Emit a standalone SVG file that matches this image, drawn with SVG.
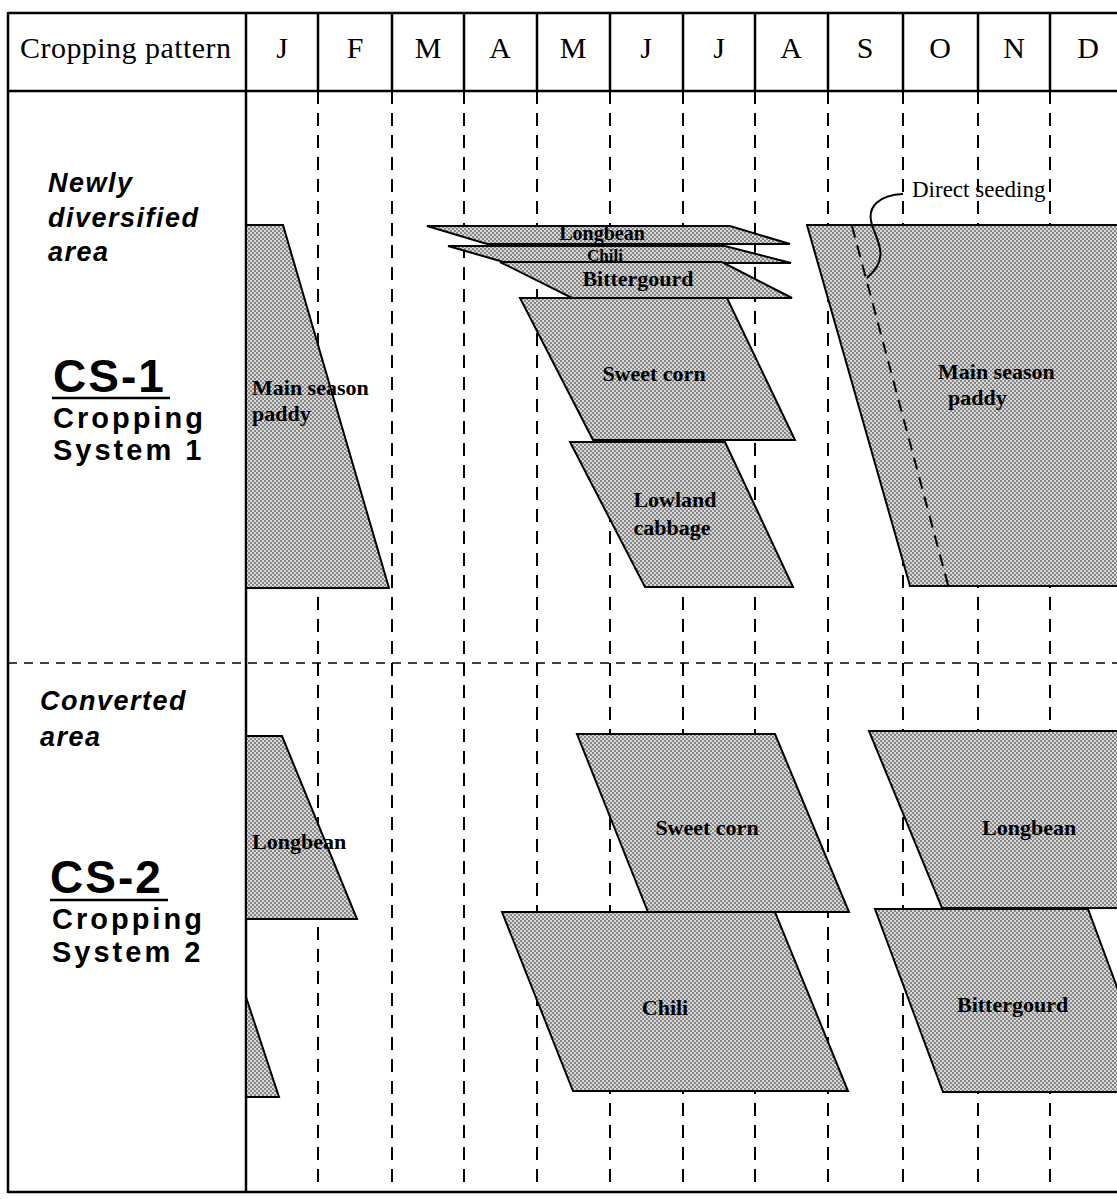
<svg xmlns="http://www.w3.org/2000/svg" width="1117" height="1199" viewBox="0 0 1117 1199">
<defs>
<pattern id="ht" width="4" height="4" patternUnits="userSpaceOnUse">
<rect width="4" height="4" fill="#d8d8d8"/>
<rect x="0" y="0" width="2" height="2" fill="#878787"/>
<rect x="2" y="2" width="2" height="2" fill="#878787"/>
</pattern>
<style>
.hdr{font-family:"Liberation Serif",serif;font-size:30px;fill:#000}
.mo{text-anchor:middle}
.solid{stroke:#000;stroke-width:2.5;fill:none}
.vd{stroke:#000;stroke-width:2;stroke-dasharray:13 9;fill:none}
.hd{stroke:#000;stroke-width:1.5;stroke-dasharray:9 7;fill:none}
.crop{fill:url(#ht);stroke:#000;stroke-width:2;stroke-linejoin:miter}
.lbl{font-family:"Liberation Serif",serif;font-weight:bold;font-size:22px;fill:#000}
.area{font-family:"Liberation Sans",Arial,sans-serif;font-weight:bold;font-style:italic;font-size:27px;letter-spacing:1.5px;fill:#000}
.cs{font-family:"Liberation Sans",Arial,sans-serif;font-weight:bold;font-size:46px;letter-spacing:2px;fill:#000}
.sys{font-family:"Liberation Sans",Arial,sans-serif;font-weight:bold;font-size:29px;letter-spacing:3px;fill:#000}
.note{font-family:"Liberation Serif",serif;font-size:23px;fill:#000}
</style>
</defs>
<rect width="1117" height="1199" fill="#fff"/>

<g id="grid">
<line class="vd" x1="318" y1="91" x2="318" y2="1192"/>
<line class="vd" x1="392" y1="91" x2="392" y2="1192"/>
<line class="vd" x1="464" y1="91" x2="464" y2="1192"/>
<line class="vd" x1="537" y1="91" x2="537" y2="1192"/>
<line class="vd" x1="610" y1="91" x2="610" y2="1192"/>
<line class="vd" x1="683" y1="91" x2="683" y2="1192"/>
<line class="vd" x1="755" y1="91" x2="755" y2="1192"/>
<line class="vd" x1="828" y1="91" x2="828" y2="1192"/>
<line class="vd" x1="903" y1="91" x2="903" y2="1192"/>
<line class="vd" x1="978" y1="91" x2="978" y2="1192"/>
<line class="vd" x1="1050" y1="91" x2="1050" y2="1192"/>
<line class="hd" x1="8" y1="663" x2="1117" y2="663"/>
<line class="solid" x1="8" y1="13" x2="1117" y2="13"/>
<line class="solid" x1="8" y1="91" x2="1117" y2="91"/>
<line class="solid" x1="8" y1="1192" x2="1117" y2="1192"/>
<line class="solid" x1="8" y1="12" x2="8" y2="1193"/>
<line class="solid" x1="246" y1="12" x2="246" y2="1193"/>
<g class="solid">
<line x1="318" y1="13" x2="318" y2="91"/>
<line x1="392" y1="13" x2="392" y2="91"/>
<line x1="464" y1="13" x2="464" y2="91"/>
<line x1="537" y1="13" x2="537" y2="91"/>
<line x1="610" y1="13" x2="610" y2="91"/>
<line x1="683" y1="13" x2="683" y2="91"/>
<line x1="755" y1="13" x2="755" y2="91"/>
<line x1="828" y1="13" x2="828" y2="91"/>
<line x1="903" y1="13" x2="903" y2="91"/>
<line x1="978" y1="13" x2="978" y2="91"/>
<line x1="1050" y1="13" x2="1050" y2="91"/>
</g>
</g>

<g id="header">
<text class="hdr" x="20" y="58" textLength="211">Cropping pattern</text>
<g class="hdr mo">
<text x="282" y="58">J</text>
<text x="355" y="58">F</text>
<text x="428" y="58">M</text>
<text x="500" y="58">A</text>
<text x="573" y="58">M</text>
<text x="646" y="58">J</text>
<text x="719" y="58">J</text>
<text x="791" y="58">A</text>
<text x="865" y="58">S</text>
<text x="940" y="58">O</text>
<text x="1014" y="58">N</text>
<text x="1088" y="58">D</text>
</g>
</g>

<g id="cs1-label">
<text class="area" x="48" y="192">Newly</text>
<text class="area" x="48" y="227">diversified</text>
<text class="area" x="48" y="261">area</text>
<text class="cs" x="53" y="392">CS-1</text>
<line x1="52" y1="398" x2="170" y2="398" stroke="#000" stroke-width="2.5"/>
<text class="sys" x="53" y="428">Cropping</text>
<text class="sys" x="53" y="460">System  1</text>
</g>

<g id="cs2-label">
<text class="area" x="40" y="710">Converted</text>
<text class="area" x="40" y="746">area</text>
<text class="cs" x="50" y="893">CS-2</text>
<line x1="50" y1="900" x2="168" y2="900" stroke="#000" stroke-width="2.5"/>
<text class="sys" x="52" y="929">Cropping</text>
<text class="sys" x="52" y="962">System  2</text>
</g>

<g id="cs1-paddy-left">
<polygon class="crop" points="246,225 283,225 389,588 246,588"/>
<text class="lbl" x="252" y="395">Main season</text>
<text class="lbl" x="252" y="421">paddy</text>
</g>

<g id="cs1-longbean">
<polygon class="crop" points="427,226 730,226 790,244 487,244"/>
<text class="lbl" x="602" y="240" text-anchor="middle" style="font-size:20px">Longbean</text>
</g>
<g id="cs1-chili">
<polygon class="crop" points="448,246 725,246 791,263 507,263"/>
<text class="lbl" x="605" y="261" text-anchor="middle" style="font-size:17px">Chili</text>
</g>
<g id="cs1-bittergourd">
<polygon class="crop" points="500,262 722,262 792,298 572,298"/>
<text class="lbl" x="638" y="286" text-anchor="middle">Bittergourd</text>
</g>
<g id="cs1-sweetcorn">
<polygon class="crop" points="520,298 727,298 795,440 593,440"/>
<text class="lbl" x="654" y="381" text-anchor="middle">Sweet corn</text>
</g>
<g id="cs1-cabbage">
<polygon class="crop" points="570,442 725,442 793,587 645,587"/>
<text class="lbl" x="675" y="507" text-anchor="middle">Lowland</text>
<text class="lbl" x="672" y="535" text-anchor="middle">cabbage</text>
</g>

<g id="cs1-paddy-right">
<polygon class="crop" points="807,225 1130,225 1130,586 910,586"/>
<line x1="852" y1="226" x2="948" y2="585" stroke="#000" stroke-width="2" stroke-dasharray="12 8"/>
<text class="lbl" x="938" y="379">Main season</text>
<text class="lbl" x="948" y="405">paddy</text>
</g>

<g id="cs2-longbean-left">
<polygon class="crop" points="246,736 282,736 357,919 246,919"/>
<text class="lbl" x="252" y="849">Longbean</text>
</g>
<g id="cs2-longbean-tail">
<polygon class="crop" points="246,997 279,1097 246,1097"/>
</g>
<g id="cs2-sweetcorn">
<polygon class="crop" points="577,734 775,734 849,912 648,912"/>
<text class="lbl" x="707" y="835" text-anchor="middle">Sweet corn</text>
</g>
<g id="cs2-chili">
<polygon class="crop" points="502,912 775,912 848,1091 573,1091"/>
<text class="lbl" x="665" y="1015" text-anchor="middle">Chili</text>
</g>
<g id="cs2-longbean-right">
<polygon class="crop" points="869,731 1140,731 1140,908 942,908"/>
<text class="lbl" x="982" y="835">Longbean</text>
</g>
<g id="cs2-bittergourd">
<polygon class="crop" points="875,909 1088,909 1156,1092 943,1092"/>
<text class="lbl" x="957" y="1012">Bittergourd</text>
</g>

<g id="connectors">
<path d="M 903,194 C 880,195 866,206 872,225 C 878,243 890,258 867,278" fill="none" stroke="#000" stroke-width="2"/>
<text class="note" x="912" y="197">Direct seeding</text>
</g>
</svg>
